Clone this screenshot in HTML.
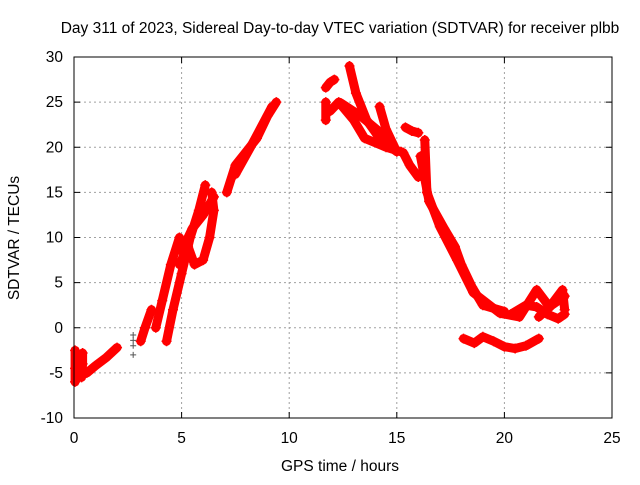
<!DOCTYPE html>
<html><head><meta charset="utf-8"><style>
body{margin:0;background:#fff}
svg text{font-family:"Liberation Sans",sans-serif;font-size:15.5px;fill:#000}
</style></head><body>
<svg id="chart" width="640" height="480" xmlns="http://www.w3.org/2000/svg">
<text x="340" y="33" text-anchor="middle">Day 311 of 2023, Sidereal Day-to-day VTEC variation (SDTVAR) for receiver plbb</text>
<text x="340" y="471" text-anchor="middle">GPS time / hours</text>
<text transform="translate(19,238) rotate(-90)" text-anchor="middle">SDTVAR / TECUs</text>
<g id="grid"></g>
<g id="marks"></g>
<rect x="74" y="57" width="538" height="361" fill="none" stroke="#000"/>
</svg>
<script>
const xTicks=[0,5,10,15,20,25];
const yTicks=[-10,-5,0,5,10,15,20,25,30];
const blackPts=[[2.75,-0.8],[2.75,-1.4],[2.75,-2.0],[2.75,-3.0]];
const tracks=[
[[0.05,-6],[0.05,-4.5],[0.05,-2.5]],
[[0.35,-5.5],[0.4,-4],[0.4,-2.8]],
[[0.6,-5],[1,-4.2],[1.5,-3.3],[2,-2.2]],
[[3.1,-1.5],[3.3,0],[3.6,2]],
[[3.8,0],[4.1,3],[4.5,7],[4.9,10]],
[[4.3,-1.5],[4.6,2],[5.0,6],[5.4,10],[5.8,13],[6.1,15.8]],
[[4.9,7],[5.3,9],[5.6,7],[6.0,7.5],[6.3,10],[6.5,13],[6.4,15]],
[[5,8.5],[5.5,11],[6,12.5],[6.5,14.5]],
[[7.1,15],[7.5,18],[8,19.5],[8.5,21],[9,23.5],[9.4,25]],
[[7.5,17],[8.2,20],[9.2,24.5]],
[[11.7,26.6],[11.9,27.2],[12.1,27.5]],
[[11.7,23],[11.7,25]],
[[12.8,29],[13.1,26],[13.6,23],[14.2,21],[15,19.5]],
[[11.9,24],[12.3,25],[13,23],[13.5,21],[14.5,20],[15.2,19.5]],
[[12.4,24.9],[13.3,23.5],[14.1,21.9],[14.7,20.5]],
[[14.2,24.5],[14.5,22],[14.9,20]],
[[15.4,22.2],[15.7,21.8],[16.0,21.6]],
[[15.3,19.4],[15.6,18],[16.0,16.7]],
[[16.3,20.8],[16.4,15],[17.0,11.2],[17.8,7.5],[18.55,3.9],[19.8,1.6],[20.7,1.2],[21.5,4.2],[22.1,2.3],[22.7,4.2],[22.8,2]],
[[16.1,19],[16.5,14],[17.2,11],[17.7,9],[18,7],[18.5,4.5],[19,2.5],[20,1.8]],
[[20.3,1.5],[21,2.5],[21.5,2.3],[22,1.5],[22.5,1],[22.8,1.5]],
[[21.6,1.2],[22.2,2.5],[22.8,3.5]],
[[18.1,-1.2],[18.6,-1.7],[19,-1],[19.5,-1.5],[20,-2.1],[20.5,-2.3],[21,-2],[21.6,-1.2]]
];
const NS="http://www.w3.org/2000/svg";
const X0=74,X1=612,Y0=418,Y1=57;
function sx(t){return X0+(t-0)/25*(X1-X0);}
function sy(v){return Y0-(v+10)/40*(Y0-Y1);}
const grid=document.getElementById('grid');
const marks=document.getElementById('marks');
function mk(tag,attrs,parent){const e=document.createElementNS(NS,tag);for(const k in attrs)e.setAttribute(k,attrs[k]);parent.appendChild(e);return e;}
xTicks.forEach(t=>{
  const x=sx(t);
  if(t>0&&t<25){const g=mk('line',{x1:x,y1:Y1,x2:x,y2:Y0,stroke:'#a0a0a0','stroke-dasharray':'2,3'},grid);
  
  }
  const tk=mk('path',{d:`M${x},${Y0}v-6M${x},${Y1}v6`,stroke:'#000'},grid);
  
  
  const l=mk('text',{x:x,y:Y0+25,'text-anchor':'middle'},grid);l.textContent=t;
  
  
});
yTicks.forEach(v=>{
  const y=sy(v);
  if(v>-10&&v<30){const g=mk('line',{x1:X0,y1:y,x2:X1,y2:y,stroke:'#a0a0a0','stroke-dasharray':'2,3'},grid);
  
  }
  const tk=mk('path',{d:`M${X0},${y}h6M${X1},${y}h-6`,stroke:'#000'},grid);
  
  
  const l=mk('text',{x:X0-11,y:y+5,'text-anchor':'end'},grid);l.textContent=v;
  
  
});
tracks.forEach(tr=>{
  const p=mk('polyline',{points:tr.map(d=>sx(d[0])+','+sy(d[1])).join(' '),fill:'none',stroke:'#ff0000','stroke-width':9,'stroke-linejoin':'round','stroke-linecap':'round'},marks);
  
  
  tr.forEach(d=>{
    const x=sx(d[0]),y=sy(d[1]);
    const m=mk('path',{d:`M${x-5},${y}h10M${x},${y-5}v10`,stroke:'#ff0000','stroke-width':1.5},marks);
    
    
  });
});
blackPts.forEach(d=>{
  const x=sx(d[0]),y=sy(d[1]);
  const m=mk('path',{d:`M${x-3},${y}h6M${x},${y-3}v6`,stroke:'#555','stroke-width':1},marks);
  
  
});
</script>
</body></html>
